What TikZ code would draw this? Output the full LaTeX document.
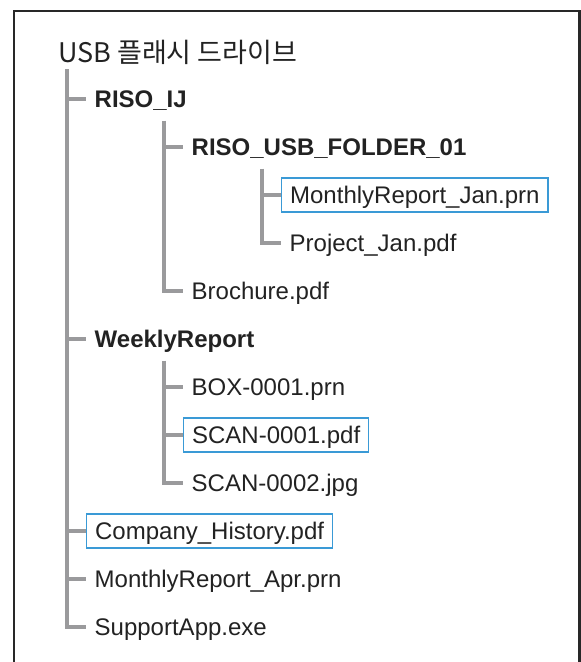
\documentclass[tikz,border=0pt]{standalone}
\usepackage{fontspec}
\setmainfont{Liberation Sans}
\newfontfamily\krfont{Noto Sans CJK KR}
\usepackage{xcolor}
\usetikzlibrary{calc}
\definecolor{framegray}{RGB}{40,40,40}
\definecolor{branchgray}{RGB}{154,154,156}
\definecolor{selblue}{RGB}{58,154,214}
\definecolor{txtgray}{RGB}{34,34,34}

\begin{document}
\begin{tikzpicture}[x=1pt,y=-1pt,font=\fontsize{24}{28}\selectfont,text=txtgray,
  item/.style={anchor=west,inner xsep=8.5pt,inner ysep=8.5pt,text height=17pt,text depth=0pt},
  dir/.style={item,font=\fontsize{24}{28}\selectfont\bfseries},
  sel/.style={item,draw=selblue,line width=1.3pt},
  branch/.style={draw=branchgray,line width=4pt},
  frame/.style={draw=framegray,line width=2.7pt}]
\useasboundingbox (0,0) rectangle (581,662);
\draw[frame] (14,662) -- (14,11) -- (579.5,11) -- (579.5,662);
% root
\node[anchor=base west,inner sep=0pt,font=\krfont\fontsize{27}{32}\selectfont] (root) at (58,62) {USB 플래시 드라이브};
% level 1
\node[dir] (rij) at (86,99) {RISO\_IJ};
\node[dir] (wkr) at (86,339) {WeeklyReport};
\node[sel] (chis) at (86,531) {Company\_History.pdf};
\node[item] (mapr) at (86,579) {MonthlyReport\_Apr.prn};
\node[item] (sapp) at (86,627) {SupportApp.exe};
% level 2
\node[dir] (usbf) at (183,147) {RISO\_USB\_FOLDER\_01};
\node[item] (bro) at (183,291) {Brochure.pdf};
\node[item] (box1) at (183,387) {BOX-0001.prn};
\node[sel] (scn1) at (183,435) {SCAN-0001.pdf};
\node[item] (scn2) at (183,483) {SCAN-0002.jpg};
% level 3
\node[sel] (mjan) at (281,195) {MonthlyReport\_Jan.prn};
\node[item] (pjan) at (281,243) {Project\_Jan.pdf};
% branches
\coordinate (t0) at ($(root.base west)+(9,7)$);
\coordinate (t1) at ($(rij.south west)+(78,4.5)$);
\coordinate (t2) at ($(wkr.south west)+(78,4.5)$);
\coordinate (t3) at ($(usbf.south west)+(79,4.5)$);
\draw[branch] (t0) |- (rij.west) (t0) |- (wkr.west) (t0) |- (chis.west) (t0) |- (mapr.west) (t0) |- (sapp.west);
\draw[branch] (t1) |- (usbf.west) (t1) |- (bro.west);
\draw[branch] (t3) |- (mjan.west) (t3) |- (pjan.west);
\draw[branch] (t2) |- (box1.west) (t2) |- (scn1.west) (t2) |- (scn2.west);
\end{tikzpicture}
\end{document}
